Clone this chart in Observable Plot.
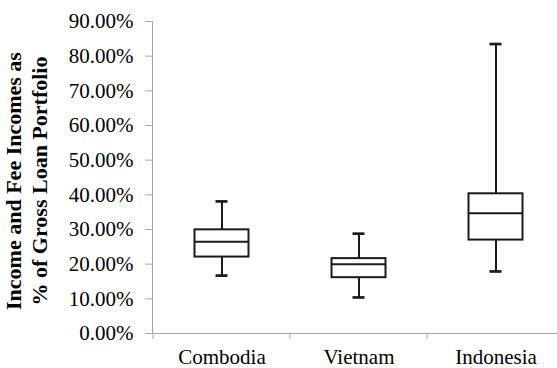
<!DOCTYPE html>
<html>
<head>
<meta charset="utf-8">
<script src="https://cdn.jsdelivr.net/npm/d3@7"></script>
<script src="https://cdn.jsdelivr.net/npm/@observablehq/plot@0.6"></script>
<style>
  html, body { margin: 0; padding: 0; background: #fff; }
  #chart svg { display: block; }
</style>
</head>
<body>
<div id="chart"></div>
<script>
const categories = ["Combodia", "Vietnam", "Indonesia"];
const minVals    = [0.167, 0.104, 0.179];
const q1Vals     = [0.2205, 0.161, 0.2695];
const medianVals = [0.265, 0.200, 0.347];
const q3Vals     = [0.299, 0.216, 0.403];
const maxVals    = [0.381, 0.288, 0.835];
const yTicks = [0, 0.1, 0.2, 0.3, 0.4, 0.5, 0.6, 0.7, 0.8, 0.9];
const yTitle = ["Income and Fee Incomes as", "% of Gross Loan Portfolio"];

const rows = categories.map((c, i) => ({
  cat: c, min: minVals[i], q1: q1Vals[i], med: medianVals[i], q3: q3Vals[i], max: maxVals[i]
}));

const axisColor = "#a6a6a6";
const ink = "#1a1a1a";
const font = "Liberation Serif, Times New Roman, serif";

const plot = Plot.plot({
  width: 557,
  height: 368,
  marginLeft: 152,
  marginRight: 0,
  marginTop: 21,
  marginBottom: 35,
  style: { fontFamily: font, fontSize: "21px", color: "#000", background: "#fff", overflow: "visible" },
  x: { type: "band", domain: categories, range: [152, 564.5], padding: 0, label: null },
  y: { domain: [0, 0.9], label: null },
  marks: [
    Plot.axisY({ ticks: yTicks, tickFormat: d3.format(".2%"), tickSize: 7, tickPadding: 12,
                 stroke: axisColor, fill: "#000", fontSize: 21, label: null }),
    Plot.axisX({ tickSize: 0, tickPadding: 16, fill: "#000", fontSize: 21, label: null }),
    Plot.frame({ anchor: "left", stroke: axisColor }),
    Plot.ruleY([0], { stroke: axisColor }),
    // whiskers
    Plot.ruleX(rows, { x: "cat", y1: "q3", y2: "max", stroke: ink, strokeWidth: 2 }),
    Plot.ruleX(rows, { x: "cat", y1: "min", y2: "q1", stroke: ink, strokeWidth: 2 }),
    // caps
    Plot.tickY(rows, { x: "cat", y: "max", inset: 62.5, stroke: ink, strokeWidth: 2.7 }),
    Plot.tickY(rows, { x: "cat", y: "min", inset: 62.5, stroke: ink, strokeWidth: 2.7 }),
    // boxes
    Plot.barY(rows, { x: "cat", y1: "q1", y2: "q3", insetLeft: 41.5, insetRight: 41.5,
                      fill: "#fff", stroke: ink, strokeWidth: 2 }),
    // medians
    Plot.tickY(rows, { x: "cat", y: "med", inset: 41.5, stroke: ink, strokeWidth: 2 })
  ]
});

// band-boundary tick marks on the x axis and the two-line y title
const svg = d3.select(plot);
const xs = plot.scale("x");
const ys = plot.scale("y");
const y0 = ys.apply(0);
const bounds = categories.map(c => xs.apply(c));
svg.append("g").selectAll("line").data(bounds).join("line")
  .attr("x1", d => d).attr("x2", d => d)
  .attr("y1", y0).attr("y2", y0 + 6)
  .attr("stroke", axisColor);

const cy = (ys.apply(0) + ys.apply(0.9)) / 2 + 4;
const t = svg.append("text")
  .attr("transform", `translate(0,${cy}) rotate(-90)`)
  .attr("text-anchor", "middle")
  .attr("font-weight", "bold")
  .attr("font-size", 22)
  .attr("fill", "#000");
t.append("tspan").attr("x", 0).attr("y", 21).text(yTitle[0]);
t.append("tspan").attr("x", 0).attr("y", 47).text(yTitle[1]);

svg.selectAll("text, tspan").style("font-family", font);

document.getElementById("chart").appendChild(plot);
</script>
</body>
</html>
